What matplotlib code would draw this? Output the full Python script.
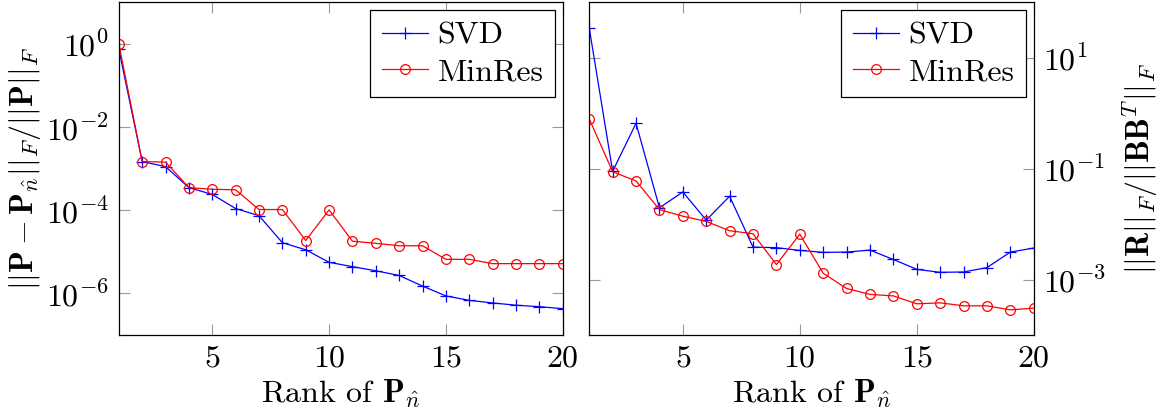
import matplotlib
matplotlib.use("Agg")
import matplotlib.pyplot as plt
import matplotlib.ticker as mticker

plt.rcParams['font.family'] = 'cmr10'
plt.rcParams['mathtext.fontset'] = 'cm'
plt.rcParams['axes.formatter.use_mathtext'] = True
plt.rcParams['axes.unicode_minus'] = False

# --- dados ---
rank = list(range(1, 21))

# erro relativo de P (painel esquerdo)
svd_err = [0.745, 1.48e-3, 1.12e-3, 3.5e-4, 2.4e-4, 1.1e-4, 7.4e-5, 1.66e-5, 1.12e-5, 5.6e-6,
           4.4e-6, 3.5e-6, 2.7e-6, 1.5e-6, 8.7e-7, 6.8e-7, 5.9e-7, 5.2e-7, 4.8e-7, 4.3e-7]
minres_err = [1.0, 1.48e-3, 1.44e-3, 3.5e-4, 3.2e-4, 3.1e-4, 1.04e-4, 1.04e-4, 1.87e-5, 1.02e-4,
              1.8e-5, 1.6e-5, 1.4e-5, 1.4e-5, 6.6e-6, 6.6e-6, 5.2e-6, 5.2e-6, 5.2e-6, 5.2e-6]

# residuo relativo (painel direito)
svd_res = [34.2, 0.0895, 0.66, 0.0197, 0.038, 0.0118, 0.0318, 3.85e-3, 3.76e-3, 3.36e-3,
           3.09e-3, 3.13e-3, 3.4e-3, 2.3e-3, 1.53e-3, 1.35e-3, 1.37e-3, 1.64e-3, 3.13e-3, 3.7e-3]
minres_res = [0.79, 0.088, 0.06, 0.0183, 0.0139, 0.0112, 7.6e-3, 6.7e-3, 1.86e-3, 6.6e-3,
              1.3e-3, 6.9e-4, 5.4e-4, 5.07e-4, 3.65e-4, 3.8e-4, 3.36e-4, 3.36e-4, 2.84e-4, 3.05e-4]

left_yticks = [1e0, 1e-2, 1e-4, 1e-6]
left_ylabels = [r'$10^{0}$', r'$10^{-2}$', r'$10^{-4}$', r'$10^{-6}$']
right_yticks = [1e1, 1e-1, 1e-3]
right_ylabels = [r'$10^{1}$', r'$10^{-1}$', r'$10^{-3}$']
xticks = [5, 10, 15, 20]

FS = 23

fig = plt.figure(figsize=(11.65, 4.2), dpi=100)
ax1 = fig.add_axes([0.102, 0.2024, 0.381, 0.792])
ax2 = fig.add_axes([0.5058, 0.2024, 0.3815, 0.792])


def style(ax):
    ax.set_yscale('log')
    ax.set_xlim(1, 20)
    ax.set_xticks(xticks)
    ax.yaxis.set_minor_locator(mticker.NullLocator())
    ax.tick_params(axis='both', which='major', direction='in', length=8, width=0.8,
                   color='#999999', top=True, right=True, left=True, bottom=True,
                   labelsize=FS, pad=7)
    for s in ax.spines.values():
        s.set_linewidth(0.9)
    ax.set_xlabel(r'Rank of $\mathbf{P}_{\hat{n}}$', fontsize=FS, labelpad=4)


def draw(ax, svd, minres):
    ax.plot(rank, svd, color='blue', marker='+', markersize=8, markeredgewidth=0.9,
            linewidth=0.9, label='SVD')
    ax.plot(rank, minres, color='red', marker='o', markersize=7, markerfacecolor='none',
            markeredgewidth=0.9, linewidth=0.9, label='MinRes')
    leg = ax.legend(loc='upper right', fontsize=FS, fancybox=False, framealpha=1,
                    edgecolor='black', handlelength=1.45, borderpad=0.35,
                    labelspacing=0.25, borderaxespad=0.25, handletextpad=0.3)
    leg.get_frame().set_linewidth(0.9)


draw(ax1, svd_err, minres_err)
style(ax1)
ax1.set_ylim(1e-7, 1e1)
ax1.set_yticks(left_yticks)
ax1.set_yticklabels(left_ylabels)
ax1.set_ylabel(r'$||\mathbf{P}-\mathbf{P}_{\hat{n}}||_F/||\mathbf{P}||_F$', fontsize=FS, labelpad=2)

draw(ax2, svd_res, minres_res)
style(ax2)
ax2.set_ylim(1e-4, 1e2)
ax2.set_yticks(right_yticks)
ax2.set_yticklabels(right_ylabels)
ax2.tick_params(axis='y', labelleft=False, labelright=True)
ax2.yaxis.set_label_position('right')
ax2.set_ylabel(r'$||\mathbf{R}||_F/||\mathbf{B}\mathbf{B}^T||_F$', fontsize=FS, labelpad=10)

fig.savefig('out.png', dpi=100)
